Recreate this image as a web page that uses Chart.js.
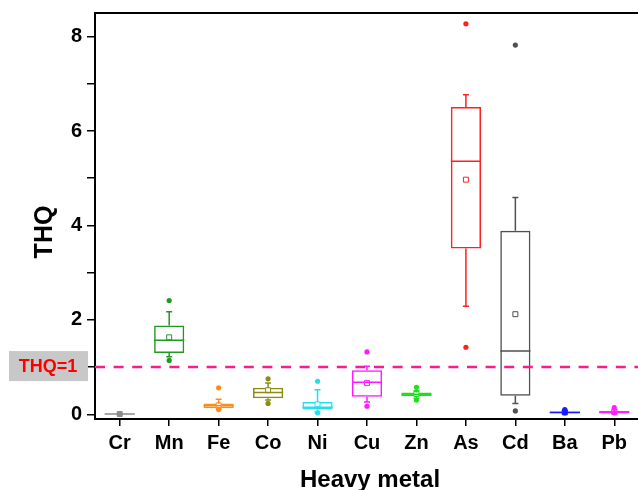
<!DOCTYPE html>
<html>
<head>
<meta charset="utf-8">
<script src="https://cdn.jsdelivr.net/npm/chart.js@4.4.1/dist/chart.umd.min.js"></script>
<style>
html,body{margin:0;padding:0;overflow:hidden;background:#ffffff;}
#wrap{width:644px;height:490px;}
</style>
</head>
<body>
<div id="wrap"><canvas id="c" width="644" height="490"></canvas></div>
<script>
// ---- data ----
const categories = ['Cr','Mn','Fe','Co','Ni','Cu','Zn','As','Cd','Ba','Pb'];
const q1          = [0.000, 1.30, 0.13, 0.34, 0.10, 0.37, 0.38, 3.51, 0.39, 0.02, 0.02];
const q3          = [0.010, 1.88, 0.23, 0.56, 0.26, 0.93, 0.46, 6.51, 3.89, 0.06, 0.07];
const median      = [0.005, 1.57, 0.18, 0.46, 0.15, 0.68, 0.42, 5.36, 1.34, 0.04, 0.04];
const mean        = [0.005, 1.63, 0.19, 0.51, 0.21, 0.66, 0.43, 4.97, 2.12, 0.04, 0.05];
const whiskerLow  = [0.000, 1.22, 0.11, 0.30, 0.05, 0.26, 0.34, 2.29, 0.23, 0.02, 0.02];
const whiskerHigh = [0.010, 2.17, 0.32, 0.66, 0.52, 1.02, 0.50, 6.77, 4.59, 0.08, 0.10];
const minVal      = [0.000, 1.14, 0.10, 0.23, 0.03, 0.17, 0.30, 1.42, 0.07, 0.03, 0.03];
const maxVal      = [0.010, 2.41, 0.56, 0.75, 0.70, 1.32, 0.57, 8.27, 7.82, 0.10, 0.14];
const threshold = 1;
const yTickLabels = [0, 2, 4, 6, 8];
const colors = ['#8c8c8c','#229922','#ff8c1a','#8c8c14','#20e0f0','#ff1aff','#22dd22','#ff2020','#505050','#1a1aff','#ff20ff'];

Chart.defaults.font.family = "'Liberation Sans', Arial, sans-serif";
Chart.defaults.color = '#000';

const extras = {
  id: 'extras',
  beforeDraw(chart) {
    const {ctx} = chart;
    ctx.save();
    ctx.fillStyle = '#ffffff';
    ctx.fillRect(0, 0, chart.width, chart.height);
    ctx.restore();
  },
  afterDatasetsDraw(chart) {
    const {ctx, scales: {x, y}} = chart;
    const bars = chart.getDatasetMeta(0).data;
    ctx.save();
    ctx.lineWidth = 1.5;
    categories.forEach((c, i) => {
      const cx = x.getPixelForValue(i);
      const half = bars[i].width / 2;
      const cap = 3;
      const yq1 = y.getPixelForValue(q1[i]);
      const yq3 = y.getPixelForValue(q3[i]);
      const ywl = y.getPixelForValue(whiskerLow[i]);
      const ywh = y.getPixelForValue(whiskerHigh[i]);
      const ym = y.getPixelForValue(median[i]);
      ctx.strokeStyle = colors[i];
      ctx.beginPath();
      ctx.moveTo(cx, yq3); ctx.lineTo(cx, ywh);
      ctx.moveTo(cx - cap, ywh); ctx.lineTo(cx + cap, ywh);
      ctx.moveTo(cx, yq1); ctx.lineTo(cx, ywl);
      ctx.moveTo(cx - cap, ywl); ctx.lineTo(cx + cap, ywl);
      ctx.moveTo(cx - half, ym); ctx.lineTo(cx + half, ym);
      ctx.stroke();
    });
    ctx.restore();
  },
  afterDraw(chart) {
    const {ctx, chartArea: a, scales: {y}} = chart;
    ctx.save();
    // top frame
    ctx.strokeStyle = '#000';
    ctx.lineWidth = 2;
    ctx.beginPath();
    ctx.moveTo(a.left - 1, a.top);
    ctx.lineTo(a.right, a.top);
    ctx.lineTo(a.right, a.bottom);
    ctx.stroke();
    // axis titles
    ctx.fillStyle = '#000';
    ctx.font = "bold 25px 'Liberation Sans', Arial, sans-serif";
    ctx.textAlign = 'center';
    ctx.textBaseline = 'middle';
    ctx.save();
    ctx.translate(45, 232);
    ctx.rotate(-Math.PI / 2);
    ctx.fillText('THQ', 0, 0);
    ctx.restore();
    ctx.font = "bold 24px 'Liberation Sans', Arial, sans-serif";
    ctx.textBaseline = 'alphabetic';
    ctx.fillText('Heavy metal', (a.left + a.right) / 2 + 3, 487);
    // THQ=1 label
    const yt = y.getPixelForValue(threshold);
    ctx.fillStyle = '#c8c8c8';
    ctx.fillRect(9, yt - 16, 79, 30);
    ctx.fillStyle = '#ff0000';
    ctx.font = "bold 18px 'Liberation Sans', Arial, sans-serif";
    ctx.textBaseline = 'middle';
    ctx.fillText('THQ=1', 48, yt);
    ctx.restore();
  }
};

const outlierPts = [];
const outlierCols = [];
categories.forEach((c, i) => {
  outlierPts.push({x: i, y: minVal[i]}); outlierCols.push(colors[i]);
  outlierPts.push({x: i, y: maxVal[i]}); outlierCols.push(colors[i]);
});

new Chart(document.getElementById('c'), {
  type: 'bar',
  data: {
    datasets: [
      {
        type: 'bar',
        data: categories.map((c, i) => ({x: i, y: [q1[i], q3[i]]})),
        backgroundColor: 'rgba(0,0,0,0)',
        borderColor: colors,
        borderWidth: 1.5,
        borderSkipped: false,
        barPercentage: 0.61,
        categoryPercentage: 1,
        order: 3
      },
      {
        type: 'scatter',
        data: categories.map((c, i) => ({x: i, y: mean[i]})),
        pointStyle: 'rect',
        pointRadius: 3.5,
        backgroundColor: '#ffffff',
        borderColor: colors,
        borderWidth: 1,
        order: 2
      },
      {
        type: 'scatter',
        data: outlierPts,
        pointStyle: 'circle',
        pointRadius: 2.6,
        backgroundColor: outlierCols,
        borderColor: outlierCols,
        borderWidth: 0,
        order: 1
      },
      {
        type: 'line',
        data: [{x: -0.5, y: threshold}, {x: 10.5, y: threshold}],
        borderColor: '#ff1a8c',
        borderWidth: 2.5,
        borderDash: [10, 8.6],
        pointRadius: 0,
        fill: false,
        order: 0
      }
    ]
  },
  options: {
    responsive: false,
    animation: false,
    devicePixelRatio: 1,
    layout: {padding: {top: 13, right: 3, left: 0, bottom: 0}},
    plugins: {legend: {display: false}, tooltip: {enabled: false}},
    scales: {
      x: {
        type: 'linear',
        min: -0.5,
        max: 10.5,
        offset: false,
        afterBuildTicks: (s) => { s.ticks = categories.map((c, i) => ({value: i})); },
        afterFit: (s) => { s.height = 71; s.paddingLeft = 0; s.paddingRight = 0; },
        ticks: {
          autoSkip: false, maxRotation: 0, padding: 5,
          font: {size: 20, weight: 'bold'}, color: '#000',
          callback: (v) => categories[v]
        },
        grid: {display: true, offset: false, drawOnChartArea: false, drawTicks: true, tickLength: 7, color: '#000', lineWidth: 1.5},
        border: {display: true, color: '#000', width: 2}
      },
      y: {
        min: -0.1,
        max: 8.5,
        afterFit: (s) => { s.width = 95; s.paddingTop = 0; s.paddingBottom = 0; },
        ticks: {
          stepSize: 1, includeBounds: false, padding: 5,
          font: {size: 20, weight: 'bold'}, color: '#000',
          callback: (v) => yTickLabels.includes(v) ? String(v) : ''
        },
        grid: {display: true, drawOnChartArea: false, drawTicks: true, tickLength: 8, color: '#000', lineWidth: 1.5},
        border: {display: true, color: '#000', width: 2}
      }
    }
  },
  plugins: [extras]
});
</script>
</body>
</html>
